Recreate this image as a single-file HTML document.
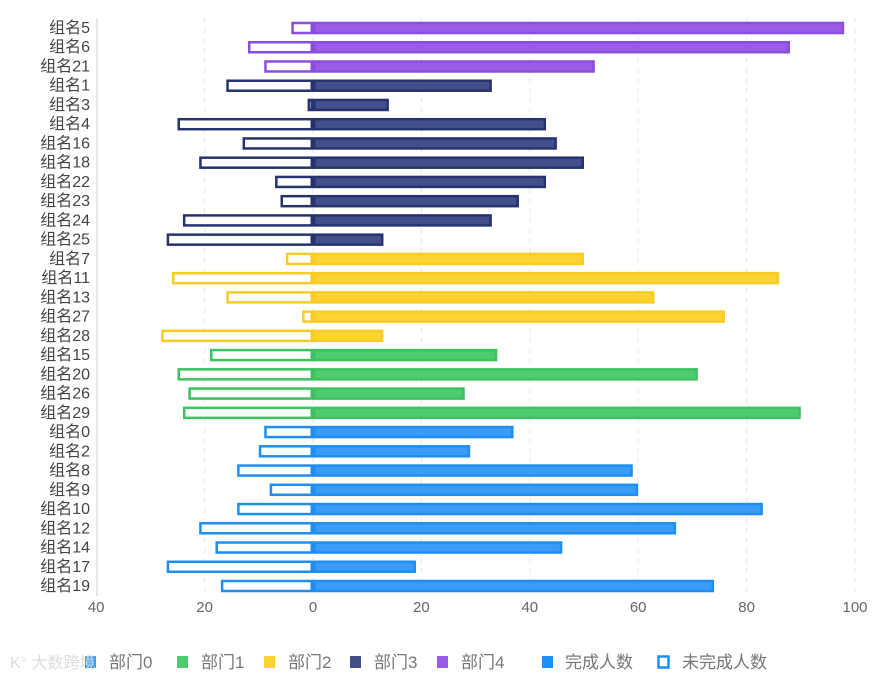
<!DOCTYPE html>
<html><head><meta charset="utf-8"><style>
body{margin:0;background:#fff;}
svg text{font-family:"Liberation Sans","Noto Sans CJK SC",sans-serif;}
</style></head><body>
<svg id="chart" width="894" height="676" xmlns="http://www.w3.org/2000/svg"></svg>
<script>
const categories=["组名5","组名6","组名21","组名1","组名3","组名4","组名16","组名18","组名22","组名23","组名24","组名25","组名7","组名11","组名13","组名27","组名28","组名15","组名20","组名26","组名29","组名0","组名2","组名8","组名9","组名10","组名12","组名14","组名17","组名19"];
const departments=[4,4,4,3,3,3,3,3,3,3,3,3,2,2,2,2,2,1,1,1,1,0,0,0,0,0,0,0,0,0];
const doneValues=[98,88,52,33,14,43,45,50,43,38,33,13,50,86,63,76,13,34,71,28,90,37,29,59,60,83,67,46,19,74];
const undoneValues=[4,12,9,16,1,25,13,21,7,6,24,27,5,26,16,2,28,19,25,23,24,9,10,14,8,14,21,18,27,17];
const xTicks=[-40,-20,0,20,40,60,80,100];
const deptNames=["部门0","部门1","部门2","部门3","部门4"];
const fills=["#3a9cf7","#4fcc6f","#fdd333","#434f8a","#9a5ce6"];
const strokes=["#1f8ef0","#3cc260","#f8cc25","#27336e","#8a4ddc"];
const svg=document.getElementById('chart');
const NS="http://www.w3.org/2000/svg";
const x=v=>313+v*5.42;
const y=i=>28+i*(558/29);
function mk(tag,attrs,parent){const e=document.createElementNS(NS,tag);for(const k in attrs)e.setAttribute(k,attrs[k]);(parent||svg).appendChild(e);return e;}
xTicks.forEach(t=>{
  if(t!==-40){const g=mk('line',{x1:x(t),x2:x(t),y1:18,y2:596,stroke:'#e6e6e6','stroke-dasharray':'5,5'});
  
  }
  const tx=mk('text',{x:x(t),y:612,'text-anchor':'middle','font-size':15,fill:'#666'});
  tx.textContent=Math.abs(t);
  
  
});
const ax=mk('line',{x1:97,x2:97,y1:18,y2:596,stroke:'#ccc'});


categories.forEach((c,i)=>{
  const d=departments[i],cy=y(i);
  const lb=mk('text',{x:90,y:cy+5,'text-anchor':'end','font-size':16,fill:'#444'});
  lb.textContent=c;
  
  
  const u=undoneValues[i];
  const r1=mk('rect',{x:x(-u)+1.25,y:cy-5,width:Math.max(0,x(0)-x(-u)-2.5),height:10,fill:'#fff',stroke:strokes[d],'stroke-width':2.5});
  
  
  const v=doneValues[i];
  const r2=mk('rect',{x:x(0)+1.25,y:cy-5,width:x(v)-x(0)-2.5,height:10,fill:fills[d],stroke:strokes[d],'stroke-width':2.5});
  
  
});
const legX=[90,182,269,355,442];
deptNames.forEach((n,i)=>{
  const s=mk('rect',{x:legX[i]-5,y:656,width:11,height:12,fill:fills[i]});
  
  
  const t=mk('text',{x:legX[i]+19,y:668,'font-size':17,fill:'#777'});
  t.textContent=n;
  
  
});
const s1=mk('rect',{x:542,y:656,width:11,height:12,fill:'#1e8ff5'});


const t1=mk('text',{x:565,y:668,'font-size':17,fill:'#777'});t1.textContent='完成人数';


const s2=mk('rect',{x:658.5,y:656.5,width:10,height:11,fill:'#fff',stroke:'#1e8ff5','stroke-width':2.5});


const t2=mk('text',{x:682,y:668,'font-size':17,fill:'#777'});t2.textContent='未完成人数';


const wm=mk('text',{x:10,y:668,'font-size':16,fill:'#ddd'});wm.textContent='K° 大数跨境';


</script>
</body></html>
